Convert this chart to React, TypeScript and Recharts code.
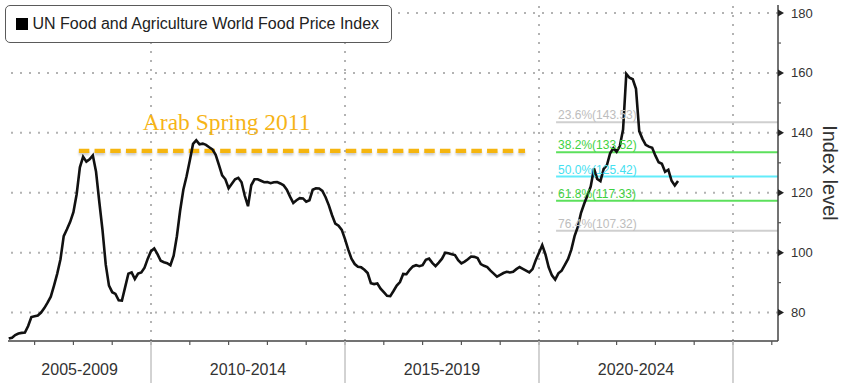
import React from 'react';
import { LineChart, Line, XAxis, YAxis, ReferenceLine, ReferenceDot, Legend } from 'recharts';

const seriesName = 'UN Food and Agriculture World Food Price Index';

// monthly index values, the 2006 list starts in May
const firstYear = 2006;
const firstMonthIndex = 4;
const fpi2006 = [71.3, 71.6, 72.5, 73.0, 73.2, 73.3, 75.5, 78.5];
const fpi2007 = [78.8, 79.0, 80.0, 81.5, 83.3, 85.3, 89.0, 93.0, 97.8, 105.5, 107.8, 110.3];
const fpi2008 = [113.5, 119.5, 128.5, 132.0, 130.4, 131.2, 132.5, 127.0, 117.0, 107.5, 96.0, 89.0];
const fpi2009 = [86.8, 86.2, 84.1, 84.0, 88.5, 93.0, 93.4, 91.2, 93.0, 93.4, 95.0, 98.0];
const fpi2010 = [100.5, 101.4, 99.5, 97.3, 96.8, 96.5, 95.8, 99.0, 105.5, 114.0, 121.0, 125.5];
const fpi2011 = [130.8, 136.3, 137.5, 136.2, 136.4, 136.0, 135.2, 134.5, 132.7, 129.3, 125.8, 124.5];
const fpi2012 = [121.5, 123.0, 124.5, 125.0, 123.5, 119.0, 115.5, 122.5, 124.5, 124.5, 124.0, 123.5];
const fpi2013 = [123.6, 123.2, 123.5, 123.6, 123.1, 122.5, 121.0, 118.7, 116.6, 117.5, 118.2, 118.1];
const fpi2014 = [117.0, 117.5, 121.0, 121.5, 121.4, 120.6, 118.5, 115.8, 112.5, 109.7, 109.0, 107.6];
const fpi2015 = [104.5, 101.0, 98.0, 96.2, 95.3, 95.1, 94.3, 93.2, 89.8, 89.5, 89.7, 88.0];
const fpi2016 = [86.8, 85.6, 85.5, 87.2, 89.0, 90.2, 92.9, 92.8, 94.3, 95.4, 95.8, 95.5];
const fpi2017 = [95.8, 97.6, 98.0, 96.6, 95.5, 96.7, 98.0, 100.0, 99.8, 99.5, 99.2, 97.5];
const fpi2018 = [96.4, 97.0, 97.8, 98.7, 98.6, 98.2, 96.2, 95.6, 95.2, 94.0, 93.0, 92.0];
const fpi2019 = [92.6, 93.2, 93.6, 93.4, 93.6, 94.5, 95.2, 94.6, 94.0, 93.4, 94.5, 97.5];
const fpi2020 = [100.0, 102.5, 99.4, 95.1, 92.4, 91.0, 93.1, 94.0, 95.9, 97.9, 101.0, 105.5];
const fpi2021 = [108.6, 113.3, 116.4, 119.2, 122.1, 128.1, 124.6, 123.9, 128.0, 129.2, 133.2, 134.9];
const fpi2022 = [133.7, 135.6, 141.1, 159.7, 158.4, 157.9, 154.7, 140.6, 138.0, 136.0, 135.4, 135.0];
const fpi2023 = [132.4, 130.2, 129.7, 127.0, 127.7, 124.0, 122.4, 123.9];

const yearlyValues = [
  fpi2006, fpi2007, fpi2008, fpi2009, fpi2010, fpi2011, fpi2012, fpi2013, fpi2014,
  fpi2015, fpi2016, fpi2017, fpi2018, fpi2019, fpi2020, fpi2021, fpi2022, fpi2023,
];

// axis ticks and period labels
const periodLabels = ['2005-2009', '2010-2014', '2015-2019', '2020-2024'];
const periodCenters = [2008.16, 2012.5, 2017.5, 2022.5];
const yearTicks = [2007, 2008, 2009, 2010, 2011, 2012, 2013, 2014, 2015, 2016, 2017, 2018, 2019, 2020, 2021, 2022, 2023, 2024, 2025, 2026];
const periodBreaks = [2010, 2015, 2020, 2025];
const yTicks = [80, 90, 100, 110, 120, 130, 140, 150, 160, 170, 180];
const yGrid = [80, 100, 120, 140, 160, 180];

// fibonacci retracement levels
const fibPercents = [23.6, 38.2, 50.0, 61.8, 76.4];
const fibLevels = [143.53, 133.52, 125.42, 117.33, 107.32];
const fibColors = ['#cfcfcf', '#5ce05c', '#62ecfa', '#5ce05c', '#cfcfcf'];
const fibTextColors = ['#bdbdbd', '#3fd23f', '#45e0f0', '#3fd23f', '#bdbdbd'];
const fibStart = 2020.44;

// annotation
const arabSpringText = 'Arab Spring 2011';
const arabSpringLevel = 134;
const arabSpringFrom = 2008.14;
const arabSpringTo = 2019.64;
const arabSpringTextAt = { x: 2009.79, y: 141 };

const xDomain = [2006.314, 2026.16];
const yDomain = [70.5, 182.7];

const FONT = '"Liberation Sans", Arial, sans-serif';

const chartData = yearlyValues.flatMap((vals, i) => {
  const start = i === 0 ? firstMonthIndex : 0;
  return vals.map((v, j) => ({ t: firstYear + i + (start + j) / 12, value: v }));
});

const XTick = (props: any) => {
  const { x, y, payload } = props;
  const v = payload.value;
  const idx = periodCenters.indexOf(v);
  if (idx >= 0) {
    return (
      <text x={x} y={y + 34} textAnchor="middle" fontFamily={FONT} fontSize={16} fill="#333">
        {periodLabels[idx]}
      </text>
    );
  }
  const major = periodBreaks.includes(v);
  return (
    <g>
      <line x1={x} x2={x} y1={y} y2={y + 4} stroke="#555" strokeWidth={1.2} />
      {major && <line x1={x} x2={x} y1={y} y2={383} stroke="#c4c4c4" strokeWidth={1.5} />}
    </g>
  );
};

const YTick = (props: any) => {
  const { x, y, payload } = props;
  const v = payload.value;
  if (v % 20 !== 0) {
    return <line x1={x} x2={x + 3} y1={y} y2={y} stroke="#555" strokeWidth={1.2} />;
  }
  return (
    <g>
      <path d={`M${x} ${y - 3.5} L${x + 6} ${y} L${x} ${y + 3.5} Z`} fill="#222" />
      <text x={x + 13} y={y} dominantBaseline="central" fontFamily={FONT} fontSize={13} fill="#333">
        {v}
      </text>
    </g>
  );
};

const IndexLabel = (props: any) => {
  const vb = props.viewBox || { x: 778, y: 5, width: 70, height: 336 };
  const cx = vb.x + 52;
  const cy = vb.y + vb.height / 2;
  return (
    <text x={cx} y={cy} transform={`rotate(90 ${cx} ${cy})`} textAnchor="middle" dominantBaseline="central" fontFamily={FONT} fontSize={20} fill="#333">
      Index level
    </text>
  );
};

const ArabLine = (p: any) => (
  <g>
    <line x1={p.x1} y1={p.y1 + 2.5} x2={p.x2} y2={p.y2 + 2.5} stroke="rgba(0,0,0,0.2)" strokeWidth={4} strokeDasharray="10.5 5.2" style={{ filter: 'blur(1.3px)' }} />
    <line x1={p.x1} y1={p.y1} x2={p.x2} y2={p.y2} stroke="#f5b50f" strokeWidth={4.3} strokeDasharray="10.5 5.2" />
  </g>
);

const renderLegend = (props: any) => {
  const item = props.payload && props.payload[0];
  return (
    <div
      style={{
        boxSizing: 'border-box', width: 387, height: 38, border: '1.5px solid #5a5a5a', borderRadius: 5,
        background: '#fff', display: 'flex', alignItems: 'center', paddingLeft: 10,
        fontFamily: FONT, fontSize: 16, color: '#222', whiteSpace: 'nowrap',
      }}
    >
      <span style={{ width: 11.5, height: 11.5, background: '#000', marginRight: 5, display: 'inline-block' }} />
      {item ? item.value : seriesName}
    </div>
  );
};

export default function App() {
  return (
    <div style={{ position: 'absolute', left: 0, top: 0, width: 848, height: 383, background: '#fff', fontFamily: FONT }}>
      <LineChart width={848} height={383} data={chartData} margin={{ top: 5, right: 0, bottom: 0, left: 8 }}>
        <XAxis
          dataKey="t"
          type="number"
          domain={xDomain}
          allowDataOverflow
          ticks={[...yearTicks, ...periodCenters]}
          interval={0}
          tick={<XTick />}
          tickLine={false}
          tickSize={0}
          tickMargin={0}
          height={42}
          axisLine={{ stroke: '#444', strokeWidth: 1.5 }}
        />
        <YAxis
          orientation="right"
          type="number"
          domain={yDomain}
          allowDataOverflow
          ticks={yTicks}
          interval={0}
          tick={<YTick />}
          tickLine={false}
          tickSize={0}
          tickMargin={0}
          width={70}
          axisLine={{ stroke: '#444', strokeWidth: 1.5 }}
          label={{ content: IndexLabel }}
        />
        {yGrid.map((v) => (
          <ReferenceLine key={`gy${v}`} y={v} stroke="#b3b3b3" strokeWidth={2} strokeDasharray="2 7" ifOverflow="visible" />
        ))}
        {periodBreaks.map((v) => (
          <ReferenceLine key={`gx${v}`} x={v} stroke="#b3b3b3" strokeWidth={2} strokeDasharray="2 7" ifOverflow="visible" />
        ))}
        {fibLevels.map((lvl, i) => (
          <ReferenceLine
            key={`fib${i}`}
            segment={[{ x: fibStart, y: lvl }, { x: xDomain[1], y: lvl }]}
            stroke={fibColors[i]}
            strokeWidth={2}
            ifOverflow="visible"
          />
        ))}
        {fibLevels.map((lvl, i) => (
          <ReferenceDot
            key={`fibl${i}`}
            x={fibStart}
            y={lvl}
            ifOverflow="visible"
            shape={(p: any) => (
              <text x={p.cx + 2} y={p.cy - 3} fontFamily={FONT} fontSize={12} fill={fibTextColors[i]}>
                {`${fibPercents[i].toFixed(1)}%(${lvl.toFixed(2)})`}
              </text>
            )}
          />
        ))}
        <ReferenceLine
          segment={[{ x: arabSpringFrom, y: arabSpringLevel }, { x: arabSpringTo, y: arabSpringLevel }]}
          shape={ArabLine}
          ifOverflow="visible"
        />
        <ReferenceDot
          x={arabSpringTextAt.x}
          y={arabSpringTextAt.y}
          ifOverflow="visible"
          shape={(p: any) => (
            <text x={p.cx} y={p.cy} fontFamily='"Liberation Serif", "Times New Roman", serif' fontSize={23.5} fill="#f6b417">
              {arabSpringText}
            </text>
          )}
        />
        <Legend
          content={renderLegend}
          layout="vertical"
          verticalAlign="middle"
          align="center"
          wrapperStyle={{ top: 5, left: 5, width: 387, height: 38 }}
        />
        <Line
          dataKey="value"
          name={seriesName}
          type="linear"
          stroke="#111"
          strokeWidth={2.6}
          dot={false}
          activeDot={false}
          isAnimationActive={false}
        />
      </LineChart>
    </div>
  );
}
